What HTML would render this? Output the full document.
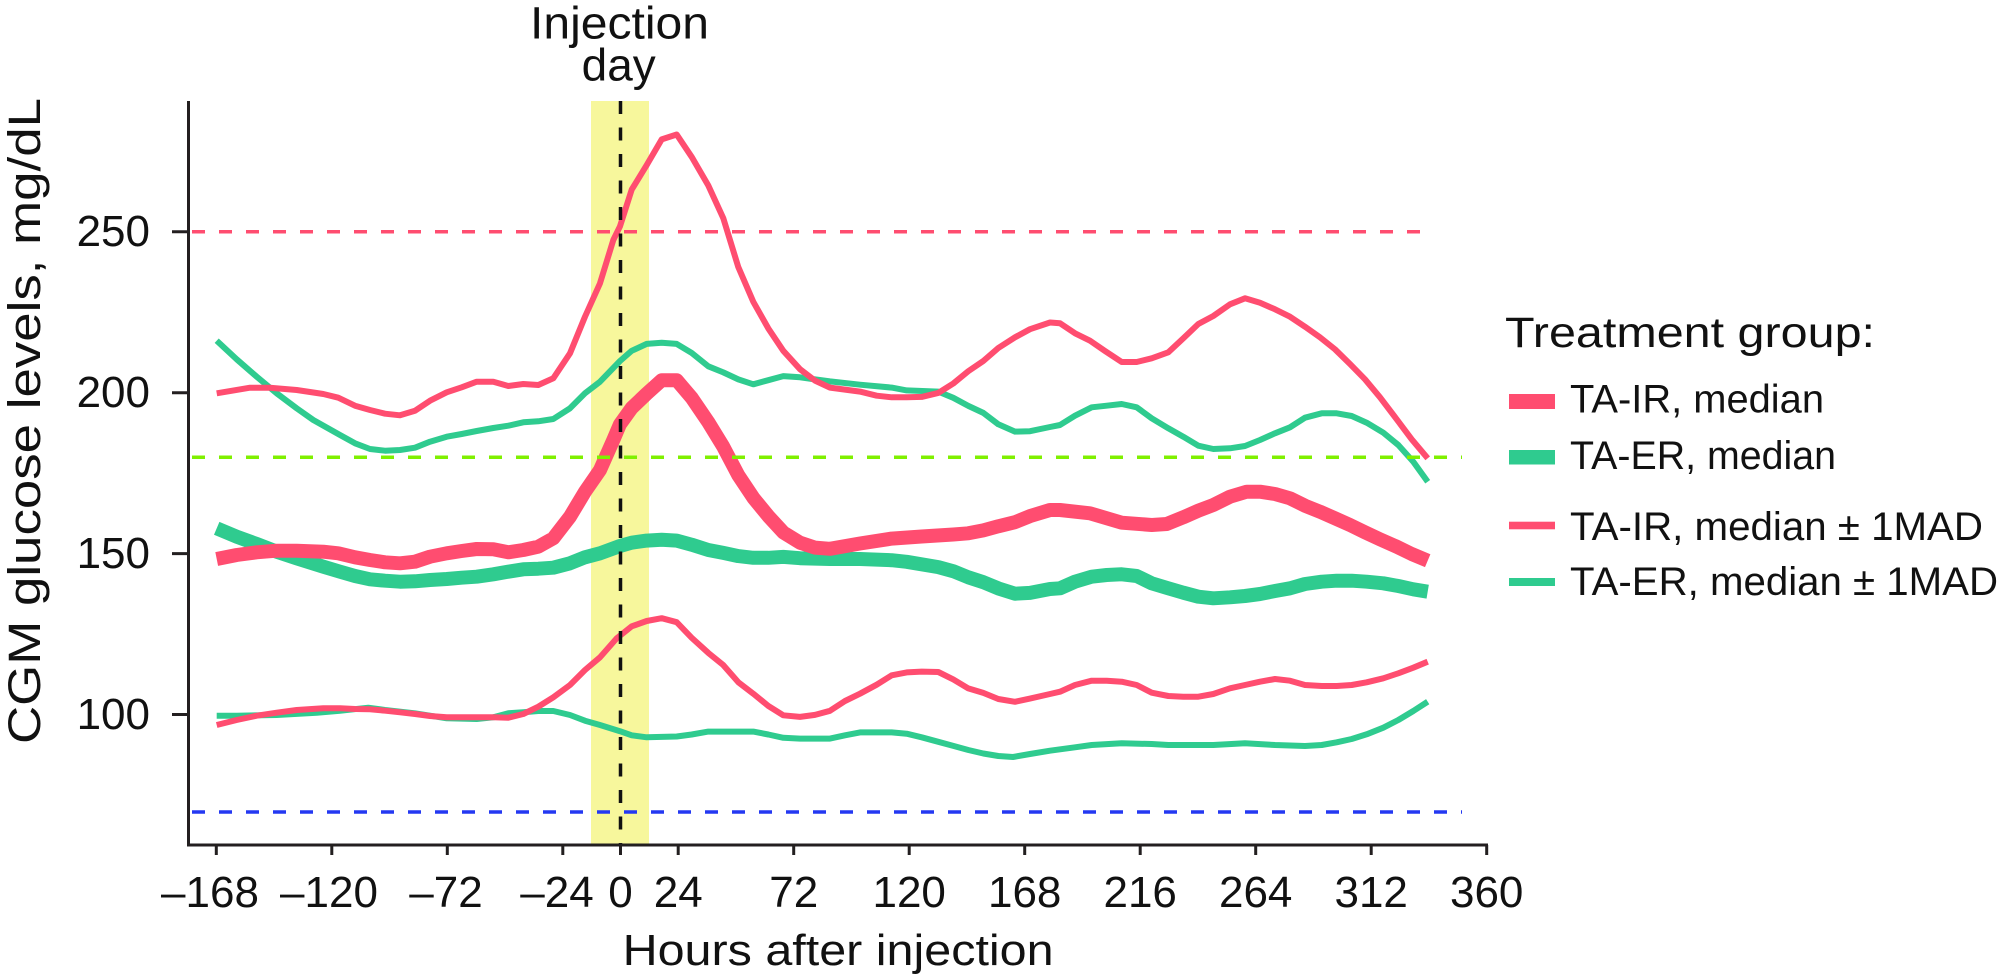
<!DOCTYPE html>
<html>
<head>
<meta charset="utf-8">
<style>
  html,body{margin:0;padding:0;background:#ffffff;}
  svg{display:block;}
  text{font-family:"Liberation Sans","DejaVu Sans",sans-serif;fill:#111;}
</style>
</head>
<body>
<svg width="2000" height="978" viewBox="0 0 2000 978" xmlns="http://www.w3.org/2000/svg">
  <rect x="0" y="0" width="2000" height="978" fill="#ffffff"/>

  <!-- Injection day band -->
  <rect x="591" y="101" width="58" height="744" fill="#f7f79c"/>

  <!-- Curves: green first -->
  <g fill="none" stroke-linejoin="round" stroke-linecap="butt">
    <polyline stroke="#2fcb8f" stroke-width="6" points="216.7,340.7 236.7,359.3 256.7,376.7 276.7,393.3 296.7,408.3 313.3,420 340,435 355,443.3 370,449 385,450.7 400,450 415,447.7 430,441.7 446.7,436.7 461.7,434 476.7,431 493.3,428 508.3,425.7 523.3,422.3 538.3,421.3 553.3,419 570,408.3 585,393.3 600,381.7 620,361 631.7,350.8 646.7,343.9 661.7,342.7 676.7,343.9 691.7,352.9 708.3,366.3 723.3,372.4 738.3,379.4 753.3,384.3 768.3,380.2 783.3,376.1 800,377.3 815,379.4 830,381.4 860,384.7 891.7,387.6 906.7,390.4 938.3,391.6 953.3,397.8 968.3,405.9 983.3,412.9 998.3,424.3 1015,431.6 1030,431.2 1050,427 1060,425 1075,415.7 1091.7,407.3 1106.7,405.7 1121.7,404 1136.7,407.3 1151.7,418.3 1168.3,428.3 1183.3,436.7 1198.3,445.7 1213.3,449 1230,448.3 1245,446 1260,440 1275,433.3 1290,427.3 1305,417.7 1321.7,413.3 1336.7,413.3 1351.7,416 1366.7,422.7 1383.3,432.7 1398.3,445 1413.3,461.7 1427.7,481.7"/>
    <polyline stroke="#2fcb8f" stroke-width="14" points="216.7,528.3 236.7,536.7 256.7,544 276.7,551.7 296.7,558.3 323.3,566.7 340,571.7 355,576 370,579.3 385,580.7 400,581.7 415,581.3 430,580 446.7,579 461.7,577.7 476.7,576.7 493.3,574.3 508.3,571.7 523.3,569.3 538.3,568.7 553.3,567.7 570,563.3 585,557.3 600,553.3 620,546 631.7,542.7 646.7,540.6 661.7,539.8 676.7,540.6 691.7,544.7 708.3,550 723.3,552.9 738.3,556.1 753.3,557.8 768.3,557.8 783.3,556.9 800,558.2 830,559 860,559 891.7,560.2 906.7,561.8 938.3,567.1 953.3,571.2 968.3,577.3 983.3,582.2 998.3,588.4 1015,593.7 1030,592.9 1050,589 1060,588.3 1075,581.7 1091.7,576.7 1106.7,575 1121.7,574.3 1136.7,576 1151.7,583.3 1168.3,588.3 1183.3,592.7 1198.3,596.7 1213.3,598.3 1230,597.3 1245,596 1260,594 1275,591 1290,588.3 1305,584 1321.7,581.7 1336.7,580.7 1351.7,580.7 1366.7,581.7 1383.3,583.3 1398.3,586 1413.3,589.3 1427.7,591.7"/>
    <polyline stroke="#2fcb8f" stroke-width="6" points="216.7,715.7 236.7,715.7 276.7,715 316.7,712.7 340,710.7 368.3,707.7 385,710 415,713.3 446.7,718.3 476.7,719 493.3,717.3 508.3,713.3 523.3,712.3 538.3,711 553.3,711 570,715 585,720.7 600,725 620,731.2 631.7,735.3 646.7,737.3 676.7,736.5 691.7,734.5 708.3,731.6 753.3,731.6 768.3,734.5 783.3,737.8 800,738.6 830,738.6 845,735.3 860,732.4 891.7,732.4 906.7,733.7 921.7,737.3 938.3,741.8 953.3,745.9 968.3,750 983.3,753.5 998.3,756 1013,757 1030,754 1050,750.7 1075,747.3 1091.7,745 1121.7,743.3 1151.7,744 1168.3,745 1213.3,745 1245,743.3 1275,745 1305,746 1321.7,745 1336.7,742.3 1351.7,739 1366.7,734.3 1383.3,727.7 1398.3,720 1413.3,711 1427.7,701.7"/>

    <!-- Pink -->
    <polyline stroke="#ff4d70" stroke-width="6" points="216.7,393.3 250,387.7 270,387.7 296.7,390 323.3,394 338.3,397.7 355,405.7 370,410 385,413.7 400,415.3 415,410.7 430,400.7 446.7,392.3 461.7,387.3 476.7,381.7 493.3,381.7 508.3,386 523.3,384 538.3,385 553.3,378.3 570,353.3 585,316.7 600,283.3 613.3,240 620,226.3 631.7,189.6 646.7,165.1 661.7,139.4 676.7,134.5 691.7,156.9 708.3,185.5 723.3,218.2 738.3,267.1 753.3,301.8 768.3,328.4 783.3,350.8 800,369.2 815,380.6 830,387.6 860,391.6 876.7,395.7 891.7,397.3 906.7,397.3 921.7,396.9 938.3,392.9 953.3,383.5 968.3,371.2 983.3,361 998.3,348 1015,337.3 1030,329.2 1050,322.5 1060,323.3 1075,333.3 1090,340.7 1105,351 1121.7,362 1136.7,362 1151.7,358.3 1168.3,352.3 1183.3,338.3 1198.3,324 1213.3,316 1230,304.3 1245,298.3 1260,302.7 1275,309.3 1290,316.7 1305,326.7 1320,337.3 1335,349.3 1350,364 1365,379.3 1380,397.3 1396.7,419.3 1411.7,439.3 1427.7,458.3"/>
    <polyline stroke="#ff4d70" stroke-width="14" points="216.7,559 236.7,555 256.7,552.3 276.7,550.7 296.7,550.7 323.3,551.7 338.3,553.3 355,557.3 370,560 385,562.3 400,563.3 415,561.7 430,556.7 446.7,553.3 461.7,551 476.7,549 493.3,549.3 508.3,552.3 523.3,550 538.3,546.7 553.3,538.3 570,516.7 585,491.7 600,470 613.3,440 620,424.3 631.7,408 646.7,393.7 661.7,380.2 676.7,380.2 691.7,397.8 708.3,422.2 723.3,446.7 738.3,475.3 753.3,497.8 768.3,516.1 783.3,532.4 800,542.7 815,547.6 830,548.8 860,543.5 891.7,538.6 921.7,536.5 953.3,534.5 968.3,533.3 983.3,530.4 998.3,526.3 1015,522.2 1030,516.1 1050,510 1060,510 1090,513.3 1121.7,522.7 1151.7,525 1166.7,524 1183.3,517.3 1198.3,510.7 1213.3,505 1230,496.7 1246.7,491.7 1260,491.7 1275,494 1290,498.3 1305,505.7 1320,511.7 1335,518.3 1350,525 1365,532.3 1380,539.3 1396.7,546.7 1411.7,554 1427.7,560.7"/>
    <polyline stroke="#ff4d70" stroke-width="6" points="216.7,725 236.7,720 256.7,715.7 276.7,712.7 296.7,710 323.3,708.3 340,708.3 355,709 370,709.3 385,710.7 400,712.3 415,714 430,716 446.7,717.3 461.7,717.3 476.7,717.3 493.3,717.3 508.3,717.7 523.3,714 538.3,706.7 553.3,697.3 570,685 585,670 600,657.3 616.7,638.3 631.7,626.3 646.7,621 661.7,618.2 676.7,622.2 691.7,637.8 708.3,652.9 723.3,665.1 738.3,682.2 753.3,693.7 768.3,705.9 783.3,715.3 800,716.9 815,714.9 830,710.8 845,701 860,693.7 876.7,684.7 891.7,675.3 906.7,672.4 921.7,671.6 938.3,672 953.3,679.4 968.3,688.4 983.3,692.9 998.3,699 1015,701.8 1030,698.6 1050,694 1060,691.7 1075,685 1091.7,680.7 1106.7,680.7 1121.7,681.7 1136.7,685 1151.7,692.7 1168.3,696 1183.3,696.7 1198.3,696.7 1213.3,694 1230,688.3 1245,685 1260,681.7 1275,679 1290,680.7 1305,685 1321.7,686 1336.7,686 1351.7,685 1366.7,682.3 1383.3,678.3 1398.3,673.3 1413.3,667.7 1427.7,661.7"/>
  </g>

  <!-- Reference dashed lines -->
  <g fill="none" stroke-width="3.5" stroke-dasharray="13 14">
    <line x1="192" y1="231.7" x2="1420" y2="231.7" stroke="#ff4d70"/>
    <line x1="192" y1="457.3" x2="1462" y2="457.3" stroke="#7ff000"/>
    <line x1="192" y1="812" x2="1462" y2="812" stroke="#2438f2"/>
    <line x1="620.5" y1="101" x2="620.5" y2="845" stroke="#111111" stroke-dasharray="13 13.5"/>
  </g>

  <!-- Axes -->
  <g stroke="#231f20" stroke-width="3" fill="none">
    <line x1="188.5" y1="101" x2="188.5" y2="846.5"/>
    <line x1="187" y1="845" x2="1488" y2="845"/>
    <!-- y ticks -->
    <line x1="172" y1="231.7" x2="188.5" y2="231.7"/>
    <line x1="172" y1="392.7" x2="188.5" y2="392.7"/>
    <line x1="172" y1="553.6" x2="188.5" y2="553.6"/>
    <line x1="172" y1="714.5" x2="188.5" y2="714.5"/>
    <!-- x ticks -->
    <line x1="216.3" y1="845" x2="216.3" y2="855"/>
    <line x1="331.8" y1="845" x2="331.8" y2="855"/>
    <line x1="447.3" y1="845" x2="447.3" y2="855"/>
    <line x1="562.8" y1="845" x2="562.8" y2="855"/>
    <line x1="620.5" y1="845" x2="620.5" y2="855"/>
    <line x1="678.2" y1="845" x2="678.2" y2="855"/>
    <line x1="793.7" y1="845" x2="793.7" y2="855"/>
    <line x1="909.2" y1="845" x2="909.2" y2="855"/>
    <line x1="1024.7" y1="845" x2="1024.7" y2="855"/>
    <line x1="1140.2" y1="845" x2="1140.2" y2="855"/>
    <line x1="1255.7" y1="845" x2="1255.7" y2="855"/>
    <line x1="1371.2" y1="845" x2="1371.2" y2="855"/>
    <line x1="1486.7" y1="845" x2="1486.7" y2="855"/>
  </g>

  <!-- Y tick labels -->
  <g font-size="44" text-anchor="end">
    <text x="150" y="246">250</text>
    <text x="150" y="407">200</text>
    <text x="150" y="568">150</text>
    <text x="150" y="729">100</text>
  </g>

  <!-- X tick labels -->
  <g font-size="44" text-anchor="middle">
    <text x="210" y="907">–168</text>
    <text x="329" y="907">–120</text>
    <text x="446" y="907">–72</text>
    <text x="557" y="907">–24</text>
    <text x="620.5" y="907">0</text>
    <text x="678.2" y="907">24</text>
    <text x="793.7" y="907">72</text>
    <text x="909.2" y="907">120</text>
    <text x="1024.7" y="907">168</text>
    <text x="1140.2" y="907">216</text>
    <text x="1255.7" y="907">264</text>
    <text x="1371.2" y="907">312</text>
    <text x="1486.7" y="907">360</text>
  </g>

  <!-- Axis titles -->
  <text x="622.6" y="965" font-size="44" textLength="431" lengthAdjust="spacingAndGlyphs">Hours after injection</text>
  <text transform="translate(40,421) rotate(-90)" font-size="45" text-anchor="middle" textLength="646" lengthAdjust="spacingAndGlyphs">CGM glucose levels, mg/dL</text>

  <!-- Injection day title -->
  <text x="530" y="38.5" font-size="45" textLength="179" lengthAdjust="spacingAndGlyphs">Injection</text>
  <text x="581.7" y="80.7" font-size="45" textLength="74" lengthAdjust="spacingAndGlyphs">day</text>

  <!-- Legend -->
  <text x="1505" y="347" font-size="43" textLength="370" lengthAdjust="spacingAndGlyphs">Treatment group:</text>
  <rect x="1509" y="394" width="46" height="15" fill="#ff4d70"/>
  <rect x="1509" y="450" width="46" height="14.5" fill="#2fcb8f"/>
  <rect x="1509" y="521.7" width="46" height="7.6" fill="#ff4d70"/>
  <rect x="1509" y="578" width="46" height="8" fill="#2fcb8f"/>
  <g font-size="40">
    <text x="1570" y="412.7" textLength="254" lengthAdjust="spacingAndGlyphs">TA-IR, median</text>
    <text x="1570" y="469" textLength="266" lengthAdjust="spacingAndGlyphs">TA-ER, median</text>
    <text x="1570" y="540" textLength="413" lengthAdjust="spacingAndGlyphs">TA-IR, median ± 1MAD</text>
    <text x="1570" y="595" textLength="428" lengthAdjust="spacingAndGlyphs">TA-ER, median ± 1MAD</text>
  </g>
</svg>
</body>
</html>
